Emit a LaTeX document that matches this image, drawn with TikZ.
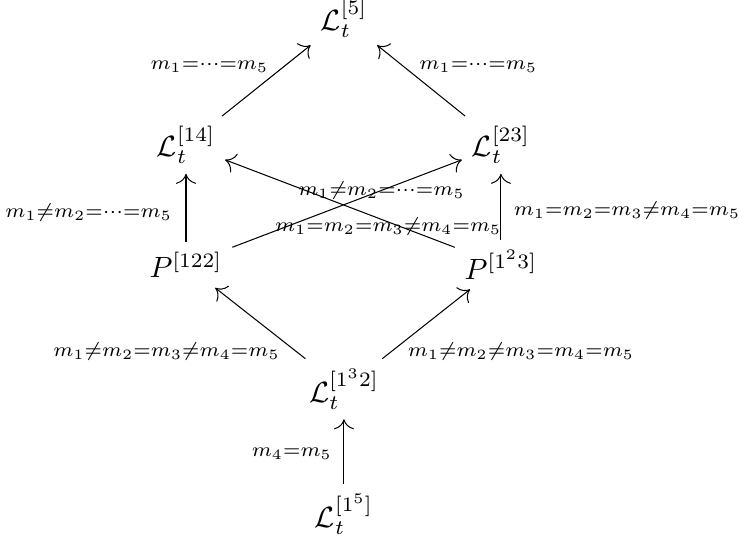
\documentclass[tikz,border=0pt]{standalone}
\usepackage{amsmath,amssymb}
\usepackage{tikz}
\usetikzlibrary{arrows.meta}
\tikzset{
    spacenode/.style = {inner sep=3.4pt, outer sep=0pt},
    edgem/.style = {-{To[length=3.4pt,width=6.8pt]}, line width=0.35pt},
    lab/.style = {inner sep=2.4pt, transform shape, scale=0.97}
}

\begin{document}
\begin{tikzpicture}
  \useasboundingbox (0,0) rectangle (8.860,6.438);

  % spaces, bottom to top
  \node[spacenode] (L15)  at (4.124,0.276) {$\mathcal{L}_t^{[1^5]}$};
  \node[spacenode] (L132) at (4.124,1.774) {$\mathcal{L}_t^{[1^32]}$};
  \node[spacenode] (P122) at (2.230,3.262) {$P^{[122]}$};
  \node[spacenode] (P123) at (6.006,3.262) {$P^{[1^23]}$};
  \node[spacenode] (L14)  at (2.230,4.700) {$\mathcal{L}_t^{[14]}$};
  \node[spacenode] (L23)  at (6.006,4.700) {$\mathcal{L}_t^{[23]}$};
  \node[spacenode] (L5)   at (4.124,6.216) {$\mathcal{L}_t^{[5]}$};

  \draw[edgem] (L15) -- node[lab, pos=0.47, left=1.7pt] {$\scriptstyle m_4=m_5$} (L132);
  \draw[edgem] (L132) -- node[lab, pos=0.1, left=3.3pt] {$\scriptstyle m_1\neq m_2=m_3\neq m_4=m_5$} (P122);
  \draw[edgem] (L132) -- node[lab, pos=0.1, right=3.3pt] {$\scriptstyle m_1\neq m_2\neq m_3=m_4=m_5$} (P123);
  \draw[edgem] (P122) -- node[lab, pos=0.43, left=2.4pt] {$\scriptstyle m_1\neq m_2=\cdots=m_5$} (L14);
  \draw[edgem] (P123) -- node[lab, pos=0.45, right=2pt] {$\scriptstyle m_1=m_2=m_3\neq m_4=m_5$} (L23);
  \draw[edgem] (P122) -- node[lab, pos=0.65] {$\scriptstyle m_1\neq m_2=\cdots=m_5$} (L23);
  \draw[edgem] (P123) -- node[lab, pos=0.29, yshift=-1.7pt] {$\scriptstyle m_1=m_2=m_3\neq m_4=m_5$} (L14);
  \draw[edgem] (L14) -- node[lab, pos=0.7, left=3pt] {$\scriptstyle m_1=\cdots=m_5$} (L5);
  \draw[edgem] (L23) -- node[lab, pos=0.7, right=3pt] {$\scriptstyle m_1=\cdots=m_5$} (L5);

\end{tikzpicture}
\end{document}
